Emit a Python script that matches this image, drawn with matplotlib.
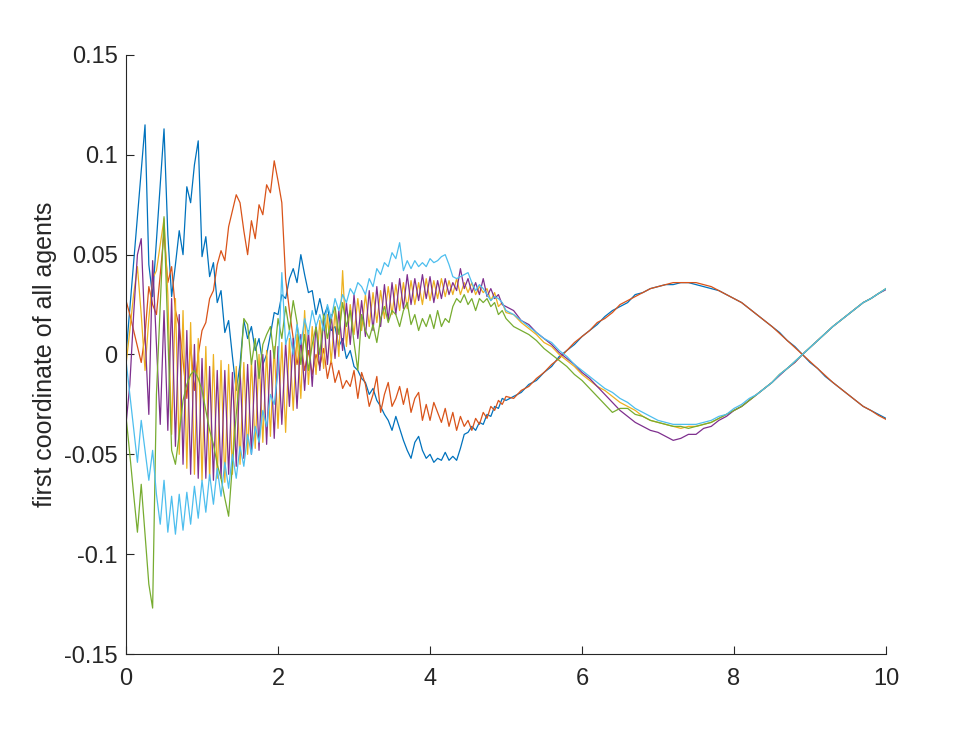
import matplotlib.pyplot as plt
import numpy as np

# time grids (noisy part at 0.05, settled part at 0.1)
t_early = np.linspace(0, 5, 101)
t_late = np.linspace(5.1, 10, 50)

# first coordinate of each agent (in units of 1e-3)
blue_early = [0, 23, 46, 69, 92, 115, 45, 29, 57, 85,
              113, 60, 29, 45, 62, 50, 84, 76, 95, 107,
              49, 59, 39, 46, 26, 32, 11, 17, -1, -18,
              -5, 17, 8, 14, 2, 8, -5, 0, 10, 21,
              20, 30, 28, 38, 43, 36, 50, 40, 31, 32,
              20, 28, 19, 24, 12, 14, 4, 8, -2, 2,
              -6, -8, -12, -14, -20, -17, -23, -26, -30, -33,
              -38, -31, -37, -43, -48, -52, -44, -41, -48, -52,
              -50, -54, -52, -53, -49, -53, -51, -53, -47, -40,
              -39, -36, -38, -34, -35, -30, -31, -26, -27, -22,
              -23]
orange_early = [27, 20, 12, 4, -4, 10, 34, 25, 20, 40,
                61, 36, 44, 22, 14, -3, -22, 5, -18, 0,
                12, 16, 28, 32, 45, 52, 47, 64, 72, 80,
                76, 62, 50, 67, 58, 75, 70, 85, 81, 97,
                87, 76, 38, 22, 8, -5, 6, -8, 2, -10,
                0, -6, 3, -12, -3, -14, -8, -17, -13, -16,
                -8, -22, -9, -15, -26, -20, -11, -29, -20, -14,
                -26, -22, -16, -25, -17, -29, -22, -19, -33, -25,
                -33, -24, -29, -34, -27, -36, -29, -38, -31, -36,
                -33, -38, -32, -35, -29, -32, -26, -28, -23, -25,
                -21]
yellow_early = [-5, 12, 30, 44, 20, -8, 18, 38, 42, 55,
                68, 30, -40, 28, -50, 22, -57, 16, -60, 8,
                -63, 4, -63, 0, -62, -3, -64, -5, -60, -6,
                -55, -4, -50, -3, -47, 0, -44, 2, -41, 4,
                -37, 6, -39, 8, -28, 10, -22, 22, -15, 14,
                -10, 17, -7, 20, -4, 22, -1, 42, 4, 25,
                10, 28, 12, 30, 14, 31, 16, 32, 18, 34,
                20, 35, 22, 36, 23, 37, 25, 36, 25, 38,
                27, 37, 28, 38, 29, 37, 30, 38, 30, 36,
                31, 36, 30, 34, 31, 33, 27, 31, 24, 26,
                21]
purple_early = [-35, -15, 20, 50, 58, 10, -30, 47, 5, -35,
                22, -38, 28, -46, 20, -55, 12, -60, 5, -62,
                -2, -62, -6, -63, -8, -62, -8, -60, -9, -56,
                -7, -52, -5, -50, -3, -48, 0, -45, 2, -42,
                4, -35, 6, -26, 8, -27, 10, -18, 12, -16,
                15, -8, 18, -5, 20, -2, 22, 2, 26, 5,
                30, 8, 27, 9, 32, 12, 34, 14, 35, 17,
                36, 20, 38, 23, 40, 25, 38, 27, 40, 28,
                39, 26, 37, 28, 38, 30, 36, 32, 43, 33,
                38, 31, 36, 30, 38, 29, 33, 28, 30, 25,
                24]
green_early = [-31, -50, -70, -89, -65, -90, -115, -127, -20, 25,
               69, 10, -48, -55, -40, -23, -15, -10, -8, -12,
               -18, -28, -38, -45, -55, -62, -72, -81, -55, -30,
               -10, 18, 15, -5, 8, -12, 5, 10, 14, -2,
               18, 8, 24, 12, 27, 16, -5, 10, -8, 5,
               14, 0, 20, 8, 18, 24, 10, 26, 14, 22,
               6, -8, 20, 12, 8, 15, 6, 18, 24, 16,
               22, 20, 14, 22, 26, 15, 20, 12, 18, 14,
               20, 13, 22, 14, 18, 16, 24, 28, 26, 30,
               25, 28, 22, 28, 26, 28, 24, 26, 20, 22,
               18]
cyan_early = [-3, -20, -37, -54, -33, -48, -63, -48, -70, -85,
              -63, -89, -71, -90, -70, -88, -69, -85, -66, -82,
              -63, -79, -60, -75, -57, -71, -54, -67, -50, -62,
              -46, -56, -40, -50, -36, -44, -28, -36, -20, -25,
              -8, 41, 5, 12, 0, 15, 5, 18, 10, 22,
              14, 20, 12, 25, 18, 28, 22, 30, 26, 33,
              30, 36, 34, 30, 38, 34, 43, 40, 46, 44,
              51, 48, 56, 42, 47, 43, 47, 44, 46, 44,
              48, 46, 47, 49, 50, 45, 39, 38, 39, 40,
              41, 36, 32, 35, 33, 30, 27, 29, 28, 26,
              22]

blue_late = [-21, -19, -15, -13, -9, -6, -1, 2, 5, 9,
             12, 15, 19, 22, 24, 26, 30, 31, 33, 34,
             35, 35, 36, 36, 35, 34, 33, 32, 30, 28,
             26, 23, 20, 17, 14, 11, 7, 4, 0, -4,
             -7, -11, -14, -17, -20, -23, -26, -28, -30, -32]
orange_late = [-22, -18, -16, -12, -9, -5, -2, 2, 6, 9,
               12, 16, 18, 21, 25, 27, 29, 31, 33, 34,
               35, 36, 36, 36, 36, 35, 34, 32, 30, 28,
               26, 23, 20, 17, 14, 10.5, 7, 3.5, 0, -3.5,
               -7, -10.5, -14, -17, -20, -23, -26, -28, -30.5, -32.5]
yellow_late = [20, 16, 13, 10, 6, 4, 0, -3, -6, -10,
               -13, -16, -18, -21, -24, -26, -28, -31, -33, -34,
               -35, -36, -37, -36, -36, -35, -34, -32, -30, -28,
               -26, -23, -20, -17, -14, -10, -7, -4, 0, 3.5,
               7, 10.5, 14, 17, 20, 23, 26, 28, 30.5, 33]
purple_late = [22, 17, 15, 11, 8, 5, 1, -2, -5, -9,
               -12, -16, -20, -24, -28, -31, -34, -36, -38, -39,
               -41, -43, -42, -40, -40, -37, -36, -33, -31, -28,
               -26, -23, -20, -17, -14, -10.5, -7, -4, 0, 3.5,
               7, 10.5, 14, 17, 20, 23, 26, 28, 30.5, 32.5]
green_late = [14, 12, 10, 7, 3, 0, -3, -6, -10, -13,
              -17, -21, -25, -29, -27, -27, -30, -31, -33, -34,
              -35, -36, -36, -37, -36, -35, -34, -32, -30, -28,
              -26, -23, -20, -17, -14, -10, -7, -3.5, 0, 3.5,
              7, 10.5, 14, 17, 20, 23, 26, 28, 30.5, 33]
cyan_late = [20, 17, 14, 11, 8, 6, 2, -1, -5, -8,
             -11, -14, -17, -19, -22, -24, -27, -29, -31, -33,
             -34, -35, -35, -35, -35, -34, -33, -31, -30, -27,
             -25, -22, -20, -17, -14, -10, -7, -3.5, 0, 3.5,
             7, 10.5, 14, 17, 20, 23, 26, 28, 30.5, 33]

agents = [
    (blue_early, blue_late, '#0072BD'),
    (orange_early, orange_late, '#D95319'),
    (yellow_early, yellow_late, '#EDB120'),
    (purple_early, purple_late, '#7E2F8E'),
    (green_early, green_late, '#77AC30'),
    (cyan_early, cyan_late, '#4DBEEE'),
]

plt.rcParams['font.family'] = ['Liberation Sans', 'DejaVu Sans']

fig = plt.figure(figsize=(9.8, 7.35), dpi=100)
ax = fig.add_axes([0.1286, 0.1102, 0.7755, 0.815])

t = np.concatenate([t_early, t_late])
for early, late, col in agents:
    x1 = np.concatenate([early, late]) * 1e-3
    ax.plot(t, x1, color=col, lw=0.9)

ax.set_xlim(0, 10)
ax.set_ylim(-0.15, 0.15)
ax.set_xticks([0, 2, 4, 6, 8, 10])
ax.set_yticks([-0.15, -0.1, -0.05, 0, 0.05, 0.1, 0.15])
ax.set_yticklabels(['-0.15', '-0.1', '-0.05', '0', '0.05', '0.1', '0.15'])
ax.set_ylabel('first coordinate of all agents', fontsize=18,
              color='#262626', labelpad=5)

ax.spines['top'].set_visible(False)
ax.spines['right'].set_visible(False)
for s in ['left', 'bottom']:
    ax.spines[s].set_color('#262626')
    ax.spines[s].set_linewidth(0.8)
ax.tick_params(direction='in', length=6, width=0.8, colors='#262626',
               labelsize=17)
ax.tick_params(axis='x', pad=10)
ax.tick_params(axis='y', pad=6)

fig.savefig('out.png', dpi=100)
